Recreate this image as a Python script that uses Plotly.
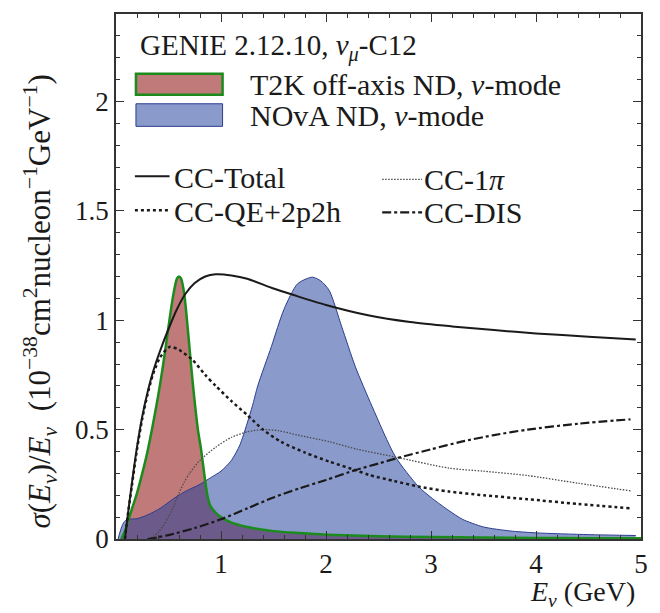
import plotly.graph_objects as go

# GENIE 2.12.10, nu_mu on C12: CC cross sections sigma(E)/E and near-detector fluxes
# (fluxes are scaled to share the cross-section axis)

t2k_E = [0.05, 0.08, 0.12, 0.16, 0.2, 0.25, 0.3, 0.35, 0.4, 0.45, 0.5, 0.54, 0.58, 0.6,
         0.62, 0.65, 0.68, 0.71, 0.74, 0.78, 0.81, 0.84, 0.87, 0.9, 0.95, 1.0, 1.1, 1.25,
         1.5, 1.75, 2.0, 2.5, 3.0, 3.5, 4.0, 4.5, 5.0]
t2k_flux = [0.0, 0.03, 0.09, 0.15, 0.21, 0.3, 0.4, 0.52, 0.65, 0.8, 0.97, 1.1, 1.19, 1.2,
            1.19, 1.12, 0.98, 0.82, 0.67, 0.5, 0.41, 0.3, 0.2, 0.15, 0.12, 0.1, 0.075, 0.055,
            0.036, 0.027, 0.02, 0.013, 0.009, 0.007, 0.005, 0.004, 0.003]

nova_E = [0.02, 0.05, 0.08, 0.12, 0.2, 0.3, 0.42, 0.55, 0.65, 0.8, 0.9, 1.0, 1.1, 1.18,
          1.25, 1.3, 1.35, 1.48, 1.6, 1.73, 1.87, 1.95, 2.03, 2.15, 2.28, 2.44, 2.66, 2.88,
          3.0, 3.17, 3.3, 3.5, 3.75, 4.0, 4.5, 4.95]
nova_flux = [0.0, 0.05, 0.08, 0.09, 0.093, 0.11, 0.14, 0.185, 0.215, 0.25, 0.28, 0.31, 0.36,
             0.43, 0.53, 0.61, 0.7, 0.88, 1.05, 1.167, 1.197, 1.18, 1.137, 0.97, 0.787, 0.605,
             0.377, 0.24, 0.19, 0.13, 0.09, 0.055, 0.037, 0.028, 0.02, 0.016]

total_E = [0.085, 0.11, 0.15, 0.2, 0.25, 0.3, 0.35, 0.42, 0.5, 0.58, 0.66, 0.75, 0.85, 0.95,
           1.1, 1.25, 1.5, 1.7, 2.0, 2.4, 2.8, 3.2, 3.6, 4.0, 4.5, 4.95]
total_xs = [0.0, 0.1, 0.25, 0.42, 0.56, 0.67, 0.76, 0.86, 0.96, 1.05, 1.12, 1.17, 1.2, 1.21,
            1.205, 1.19, 1.145, 1.114, 1.07, 1.023, 0.992, 0.972, 0.955, 0.94, 0.925, 0.912]

qe_E = [0.085, 0.11, 0.15, 0.2, 0.25, 0.3, 0.35, 0.42, 0.51, 0.6, 0.73, 0.85, 0.95, 1.1,
        1.25, 1.4, 1.57, 1.8, 2.03, 2.28, 2.41, 2.65, 2.88, 3.17, 3.5, 3.92, 4.4, 4.9]
qe_xs = [0.0, 0.1, 0.24, 0.41, 0.55, 0.66, 0.75, 0.83, 0.878, 0.865, 0.818, 0.75, 0.7, 0.63,
         0.567, 0.5, 0.445, 0.395, 0.354, 0.315, 0.293, 0.265, 0.24, 0.217, 0.2, 0.182, 0.16, 0.14]

pi_E = [0.3, 0.35, 0.4, 0.45, 0.5, 0.55, 0.6, 0.65, 0.7, 0.8, 0.95, 1.1, 1.25, 1.4, 1.55,
        1.73, 2.03, 2.3, 2.66, 3.17, 3.5, 3.92, 4.4, 4.9]
pi_xs = [0.0, 0.01, 0.03, 0.06, 0.1, 0.15, 0.21, 0.26, 0.3, 0.36, 0.42, 0.465, 0.49, 0.5,
         0.495, 0.475, 0.445, 0.41, 0.375, 0.324, 0.31, 0.29, 0.255, 0.22]

dis_E = [0.3, 0.4, 0.5, 0.75, 1.0, 1.25, 1.5, 1.75, 2.0, 2.28, 2.5, 2.68, 3.0, 3.29, 3.6,
         3.92, 4.4, 4.9]
dis_xs = [0.0, 0.008, 0.018, 0.05, 0.09, 0.14, 0.19, 0.232, 0.27, 0.315, 0.345, 0.37, 0.41,
          0.445, 0.475, 0.5, 0.527, 0.547]

x_ticks = [1, 2, 3, 4, 5]
y_ticks = [0, 0.5, 1, 1.5, 2]
y_ticktext = ["0", "0.5", "1", "1.5", "2"]

FONT = "Liberation Serif"
INK = "#1a1a1a"
RED_FILL = "#c07a7a"
GREEN = "#1b8c1b"
BLUE_FILL = "rgba(30,61,155,0.52)"
BLUE_SWATCH = "#8a9acb"
BLUE_EDGE = "#2b3d8f"
PI_GREY = "#4a4a4a"
PI_DASH = "1.5px,1.5px"
SPLINE = dict(shape="spline", smoothing=0.7)

fig = go.Figure()

# T2K flux fill, NOvA flux fill (translucent, drawn over it), then the T2K outline
fig.add_trace(go.Scatter(x=t2k_E, y=t2k_flux, mode="lines", fill="tozeroy",
                         fillcolor=RED_FILL, line=dict(width=0, **SPLINE)))
fig.add_trace(go.Scatter(x=nova_E, y=nova_flux, mode="lines", fill="tozeroy",
                         fillcolor=BLUE_FILL, line=dict(color=BLUE_EDGE, width=1, **SPLINE)))
fig.add_trace(go.Scatter(x=t2k_E, y=t2k_flux, mode="lines",
                         line=dict(color=GREEN, width=2.5, **SPLINE)))

# Cross-section components
fig.add_trace(go.Scatter(x=pi_E, y=pi_xs, mode="lines",
                         line=dict(color=PI_GREY, width=1.3, dash=PI_DASH, **SPLINE)))
fig.add_trace(go.Scatter(x=dis_E, y=dis_xs, mode="lines",
                         line=dict(color=INK, width=2.2, dash="dashdot", **SPLINE)))
fig.add_trace(go.Scatter(x=qe_E, y=qe_xs, mode="lines",
                         line=dict(color=INK, width=2.5, dash="dot", **SPLINE)))
fig.add_trace(go.Scatter(x=total_E, y=total_xs, mode="lines",
                         line=dict(color=INK, width=2, **SPLINE)))

for tr in fig.data:
    tr.showlegend = False
    tr.hoverinfo = "skip"

# Hand-built legend inside the frame
shapes = [
    dict(type="rect", xref="paper", yref="paper", x0=0.038, x1=0.203, y0=0.846, y1=0.886,
         fillcolor=RED_FILL, line=dict(color=GREEN, width=2.5)),
    dict(type="rect", xref="paper", yref="paper", x0=0.038, x1=0.203, y0=0.786, y1=0.829,
         fillcolor=BLUE_SWATCH, line=dict(color=BLUE_EDGE, width=1)),
    dict(type="line", xref="paper", yref="paper", x0=0.036, x1=0.102, y0=0.691, y1=0.691,
         line=dict(color=INK, width=2)),
    dict(type="line", xref="paper", yref="paper", x0=0.036, x1=0.102, y0=0.626, y1=0.626,
         line=dict(color=INK, width=2.5, dash="dot")),
    dict(type="line", xref="paper", yref="paper", x0=0.507, x1=0.583, y0=0.685, y1=0.685,
         line=dict(color=PI_GREY, width=1.3, dash=PI_DASH)),
    dict(type="line", xref="paper", yref="paper", x0=0.507, x1=0.583, y0=0.622, y1=0.622,
         line=dict(color=INK, width=2.2, dash="dashdot")),
]

def label(text, x, y, size=30, **kw):
    return dict(text=text, x=x, y=y, xref="paper", yref="paper", showarrow=False,
                xanchor=kw.pop("xanchor", "left"), yanchor=kw.pop("yanchor", "middle"),
                font=dict(family=FONT, size=size, color=INK), **kw)

annotations = [
    label("GENIE 2.12.10, <i>ν<sub>μ</sub></i>-C12", 0.041, 0.936, size=29),
    label("T2K off-axis ND, <i>ν</i>-mode", 0.252, 0.865),
    label("NOvA ND, <i>ν</i>-mode", 0.252, 0.807),
    label("CC-Total", 0.106, 0.688),
    label("CC-QE+2p2h", 0.106, 0.623),
    label("CC-1<i>π</i>", 0.583, 0.684),
    label("CC-DIS", 0.583, 0.621),
    label("<i>E<sub>ν</sub></i> (GeV)", 0.992, -0.104, size=28, xanchor="right"),
    label("<i>σ</i>(<i>E<sub>ν</sub></i>)/<i>E<sub>ν</sub></i>  (10<sup>−38</sup>cm<sup>2</sup>"
          "nucleon<sup>−1</sup>GeV<sup>−1</sup>)", -0.145, 0.452, size=31, xanchor="center",
          textangle=-90),
]

axis_common = dict(
    ticks="inside", ticklen=8, tickwidth=1.3, tickcolor="#333333",
    showline=True, linewidth=1.5, linecolor="#333333", mirror="ticks",
    showgrid=False, zeroline=False,
    tickfont=dict(family=FONT, size=27, color=INK),
)

fig.update_layout(
    width=660, height=613,
    margin=dict(l=116, r=17, t=12, b=74),
    paper_bgcolor="white", plot_bgcolor="white",
    xaxis=dict(range=[0, 5], tickvals=x_ticks,
               minor=dict(dtick=0.2, tick0=0, ticklen=4, ticks="inside", tickcolor="#333333"),
               **axis_common),
    yaxis=dict(range=[0, 2.4], tickvals=y_ticks, ticktext=y_ticktext,
               minor=dict(dtick=0.1, tick0=0, ticklen=4, ticks="inside", tickcolor="#333333"),
               **axis_common),
    shapes=shapes,
    annotations=annotations,
    showlegend=False,
)

fig.write_html("out.html")
